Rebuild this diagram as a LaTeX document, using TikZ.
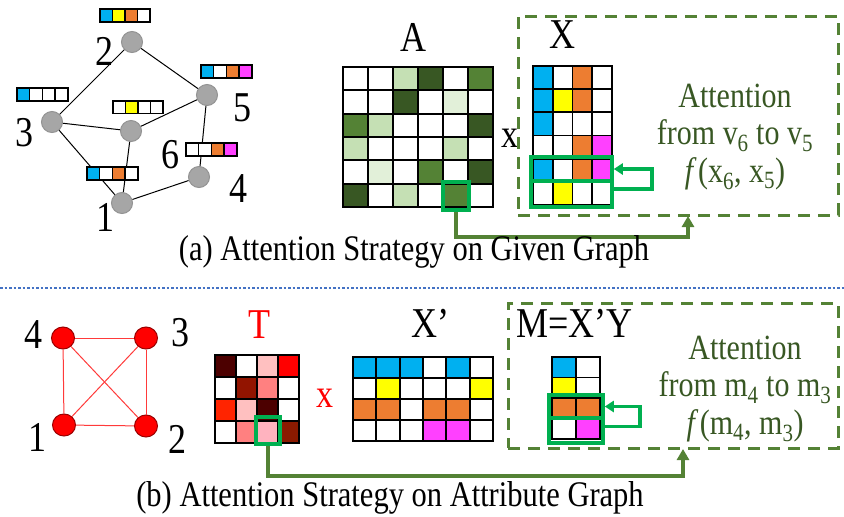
\documentclass[tikz,border=0pt]{standalone}
\usepackage{fontspec}
\setmainfont{Liberation Serif}
\usetikzlibrary{arrows.meta,shapes.geometric}

\definecolor{cB}{HTML}{00B0F0}
\definecolor{cY}{HTML}{FFFF00}
\definecolor{cO}{HTML}{ED7D31}
\definecolor{cM}{HTML}{FF40FF}
\definecolor{cW}{HTML}{FFFFFF}
\definecolor{gD}{HTML}{385723}
\definecolor{gM}{HTML}{548235}
\definecolor{gL}{HTML}{C5E0B4}
\definecolor{gV}{HTML}{E2F0D9}
\definecolor{hl}{HTML}{00B050}
\definecolor{rA}{HTML}{4C0000}
\definecolor{rB}{HTML}{FFC0C0}
\definecolor{rC}{HTML}{FF0000}
\definecolor{rD}{HTML}{921400}
\definecolor{rE}{HTML}{FF8080}
\definecolor{rF}{HTML}{FF2400}
\definecolor{rG}{HTML}{FFB3BF}
\definecolor{rH}{HTML}{8B1A00}
\definecolor{nodegray}{HTML}{A6A6A6}
\definecolor{dotblue}{HTML}{4472C4}
\definecolor{redline}{HTML}{FF3A3A}

% #1=x0 #2=y0 #3=cell width #4=cell height #5=line width #6=rows
\newcommand\drawcells[6]{%
  \foreach \rw [count=\ri from 0] in {#6} {
    \foreach \cl [count=\ci from 0] in \rw {
      \filldraw[fill=\cl, draw=black, line width=#5] ({#1+\ci*#3},{#2+\ri*#4}) rectangle ++(#3,#4);
    }
  }%
}

\tikzset{
  tall/.style={yscale=1.18},
  gnode/.style={circle, fill=nodegray, draw=gray!85, line width=1pt, minimum size=21pt, inner sep=0pt},
  rnode/.style={ellipse, fill=red, draw=red!60!black, line width=1pt, minimum width=23pt, minimum height=22pt, inner sep=0pt},
  gedge/.style={black, line width=1pt},
  redge/.style={redline, line width=1pt},
  biglbl/.style={tall, font=\fontsize{36}{36}\selectfont, inner sep=0pt},
  matlbl/.style={tall, font=\fontsize{36}{36}\selectfont, inner sep=0pt},
  mulsign/.style={tall, font=\fontsize{34}{34}\selectfont, inner sep=0pt},
  hbox/.style={draw=hl, line width=3.5pt, inner sep=0pt},
  dbox/.style={draw=gM, line width=3pt, dash pattern=on 12pt off 8pt, inner sep=0pt},
  garrow/.style={draw=gM, line width=3.5pt, -{Triangle[length=11pt,width=12pt]}},
  harrow/.style={draw=hl, line width=3.5pt, -{Triangle[length=9pt,width=11pt]}},
  atext/.style={tall, text=gD, align=center, font=\fontsize{30}{32}\selectfont, inner sep=0pt},
  caption/.style={tall, font=\fontsize{30.5}{32}\selectfont, inner sep=0pt}
}

\begin{document}
\begin{tikzpicture}[x=1pt, y=-1pt]
\useasboundingbox (0,0) rectangle (844,517);

% ---------- (a) given graph ----------
\node[gnode] (n2) at (132,42) {};
\node[gnode] (n5) at (207,95) {};
\node[gnode] (n3) at (52,122) {};
\node[gnode] (n6) at (131,131) {};
\node[gnode] (n4) at (199,177) {};
\node[gnode] (n1) at (122,203) {};
\draw[gedge] (n2) -- (n3);
\draw[gedge] (n2) -- (n5);
\draw[gedge] (n3) -- (n6);
\draw[gedge] (n6) -- (n5);
\draw[gedge] (n3) -- (n1);
\draw[gedge] (n6) -- (n1);
\draw[gedge] (n5) -- (n4);
\draw[gedge] (n1) -- (n4);

\drawcells{100}{9}{12.5}{13}{1.5pt}{{cB,cY,cO,cW}}
\drawcells{201}{65}{12.7}{13}{1.5pt}{{cB,cW,cO,cM}}
\drawcells{17}{88}{12.7}{13}{1.5pt}{{cB,cW,cW,cW}}
\drawcells{113}{101}{12.5}{12.5}{1.5pt}{{cW,cY,cW,cW}}
\drawcells{186}{143}{12.7}{13}{1.5pt}{{cW,cW,cO,cM}}
\drawcells{87}{167}{12.7}{13}{1.5pt}{{cB,cW,cO,cW}}

\node[biglbl] (l2) at (104,51) {2};
\node[biglbl] (l5) at (242,108) {5};
\node[biglbl] (l3) at (25,133) {3};
\node[biglbl] (l6) at (170,155) {6};
\node[biglbl] (l4) at (238,189) {4};
\node[biglbl] (l1) at (105,217) {1};

% ---------- matrices A and X ----------
\node[matlbl] (labA) at (413,37) {A};
\drawcells{343}{67}{25}{23.33}{1.8pt}{{cW,cW,gL,gD,cW,gM},{cW,cW,gD,cW,gV,cW},{gM,gL,cW,cW,cW,gD},{gL,cW,cW,cW,gL,cW},{cW,gV,cW,gM,cW,gD},{gD,cW,gL,cW,gM,cW}}
\node[mulsign] (mulA) at (510,138) {x};

\node[dbox, minimum width=320pt, minimum height=199pt] (boxA) at (678,115.5) {};

\node[matlbl] (labX) at (562,35) {X};
\drawcells{533}{66}{19.75}{23.17}{1.8pt}{{cB,cW,cO,cW},{cB,cY,cO,cW},{cB,cW,cW,cW},{cW,cW,cO,cM},{cB,cW,cO,cM},{cW,cY,cW,cW}}

\node[hbox, minimum width=26pt, minimum height=28pt] (hlA) at (456,196) {};
\node[hbox, minimum width=81pt, minimum height=24pt] (xr5) at (571.5,169) {};
\node[hbox, minimum width=81pt, minimum height=26pt] (xr6) at (571.5,194) {};
\draw[harrow] ([yshift=5pt]xr6.east) -- ++(38,0) |- (xr5.east);

\node[atext] (tA) at (735,137) {Attention\\from v\textsubscript{6} to v\textsubscript{5}\\\textit{f\,}(x\textsubscript{6}, x\textsubscript{5})};

\coordinate (tipA) at (688,216);
\draw[garrow] (hlA.south) -- ++(0,25) -| (tipA);

\node[caption] (capA) at (414,252) {(a) Attention Strategy on Given Graph};

% ---------- separator ----------
\coordinate (sepL) at (0,288);
\coordinate (sepR) at (844,288);
\draw[dotblue, line width=2.5pt, dash pattern=on 2.5pt off 2pt] (sepL) -- (sepR);

% ---------- (b) attribute graph ----------
\node[rnode] (m4) at (63,338) {};
\node[rnode] (m3) at (146,338) {};
\node[rnode] (m1) at (64,425) {};
\node[rnode] (m2) at (146,426) {};
\draw[redge] (m4) -- (m3);
\draw[redge] (m4) -- (m1);
\draw[redge] (m3) -- (m2);
\draw[redge] (m1) -- (m2);
\draw[redge] (m4) -- (m2);
\draw[redge] (m3) -- (m1);
\node[biglbl] (b4) at (33,335) {4};
\node[biglbl] (b3) at (180,333) {3};
\node[biglbl] (b1) at (37,437) {1};
\node[biglbl] (b2) at (177,439) {2};

\node[matlbl, text=red] (labT) at (259,325) {T};
\drawcells{215}{355}{21}{22}{1.8pt}{{rA,cW,rB,rC},{cW,rD,rE,cW},{rF,rB,rA,cW},{cW,rE,rG,rH}}
\node[mulsign, text=red] (mulT) at (325,398) {x};

\node[matlbl] (labXp) at (430,323) {X’};
\drawcells{353}{357}{23.33}{21}{1.8pt}{{cB,cB,cB,cW,cB,cW},{cW,cY,cW,cW,cW,cY},{cO,cO,cW,cO,cO,cW},{cW,cW,cW,cM,cM,cW}}

\node[dbox, minimum width=330pt, minimum height=145pt] (boxB) at (673,375.5) {};

\node[matlbl, anchor=west] (labM) at (516,323) {M=X’Y};
\drawcells{552}{357}{24}{20.5}{1.8pt}{{cB,cW},{cY,cW},{cO,cO},{cW,cM}}

\node[hbox, minimum width=24pt, minimum height=27pt] (hlT) at (268,430.5) {};
\node[hbox, minimum width=54pt, minimum height=23pt] (mr3) at (576,406.5) {};
\node[hbox, minimum width=54pt, minimum height=25pt] (mr4) at (576,430.5) {};
\draw[harrow] ([yshift=4pt]mr4.east) -- ++(35,0) |- (mr3.east);

\node[atext] (tB) at (745,389) {Attention\\from m\textsubscript{4} to m\textsubscript{3}\\\textit{f\,}(m\textsubscript{4}, m\textsubscript{3})};

\coordinate (tipB) at (683,449);
\draw[garrow] (hlT.south) -- ++(0,30) -| (tipB);

\node[caption] (capB) at (390,498) {(b) Attention Strategy on Attribute Graph};
\end{tikzpicture}
\end{document}
